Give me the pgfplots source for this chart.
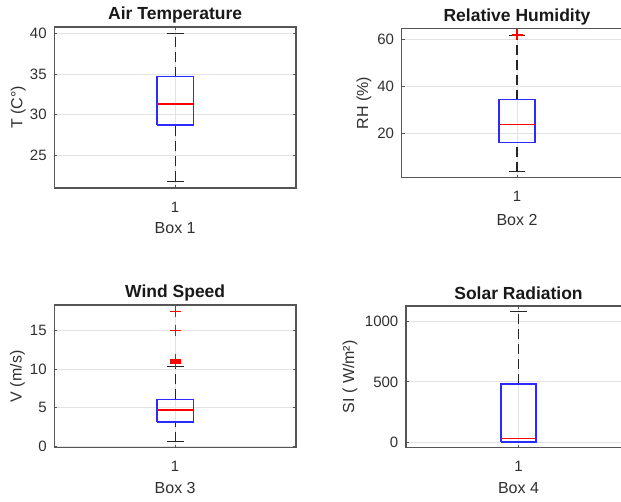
\documentclass[border=0pt]{standalone}
\usepackage{pgfplots}
\pgfplotsset{compat=1.18}
\usepackage{fontspec}
\setmainfont{Liberation Sans}
\definecolor{axgray}{HTML}{555555}
\definecolor{txtgray}{HTML}{303030}
\definecolor{gridgray}{HTML}{E3E3E3}
\definecolor{mlblue}{HTML}{2B2BFF}
\definecolor{mlred}{HTML}{FF0000}
\pgfplotsset{
  every axis title shift=0pt,
  mlbox/.style={
    scale only axis, anchor=south west,
    xmin=0.5, xmax=1.5, xtick={1}, xticklabels={1},
    grid=major, major grid style={gridgray, line width=0.8pt},
    axis line style={axgray, line width=1.2pt},
    tick style={axgray, line width=0.8pt}, major tick length=3pt,
    tick align=inside,
    ticklabel style={font=\fontsize{15}{17}\selectfont, text=txtgray},
    yticklabel style={anchor=east, inner sep=0pt, xshift=-7.5pt},
    xticklabel style={anchor=north, inner sep=0pt, yshift=-13.5pt},
    label style={font=\fontsize{16}{18}\selectfont, text=txtgray},
    xlabel style={at={([yshift=-40.5pt]axis description cs:0.5,0)}, anchor=center},
    title style={font=\bfseries\fontsize{17.5}{20}\selectfont, text=black!90,
      at={([yshift=7pt]axis description cs:0.5,1)}, anchor=base},
    /pgf/number format/assume math mode=true,
    /pgf/number format/1000 sep={},
  },
  ylab/.style={ylabel style={at={([xshift=-#1]axis description cs:0,0.5)},
      anchor=center}},
  whisk/.style={black!85, line width=1.2pt, dash pattern=on 10pt off 5pt, no marks},
  cap/.style={black!85, line width=1.2pt, no marks},
  bx/.style={draw=mlblue, line width=1.5pt, no marks},
  med/.style={mlred, line width=1.2pt, no marks},
  outl/.style={only marks, mark=+, mark size=5.5pt, mlred,
    mark options={draw=mlred, line width=1.3pt}},
}
\begin{document}
\begin{tikzpicture}
\useasboundingbox (0,0) rectangle (621pt,501pt);
% Panel 1: whiskers 21.8/40, quartiles 28.72/34.67, median 31.3
\begin{axis}[mlbox, ylab=36pt, at={(54.3pt,313pt)}, width=241.7pt, height=161pt,
  ymin=20.98, ymax=40.77, ytick={25,30,35,40},
  title={Air Temperature}, xlabel={Box 1}, ylabel={T (C°)}]
\addplot[whisk] coordinates {(1,21.8) (1,28.72)};
\addplot[whisk] coordinates {(1,34.67) (1,40)};
\addplot[cap] coordinates {(0.965,21.8) (1.035,21.8)};
\addplot[cap] coordinates {(0.965,40) (1.035,40)};
\addplot[bx] coordinates {(0.925,28.72) (1.075,28.72) (1.075,34.67) (0.925,34.67) (0.925,28.72)};
\addplot[med] coordinates {(0.925,31.3) (1.075,31.3)};
\end{axis}
% Panel 2
\begin{axis}[mlbox, ylab=37.7pt, at={(401.7pt,323.3pt)}, width=230.6pt, height=149.4pt,
  ymin=1.3, ymax=64.7, ytick={20,40,60},
  title={Relative Humidity}, xlabel={Box 2}, ylabel={RH (\%)},
  xlabel style={at={([yshift=-42pt]axis description cs:0.5,0)}}]
\addplot[whisk] coordinates {(1,3.9) (1,16.2)};
\addplot[whisk] coordinates {(1,34.4) (1,61.6)};
\addplot[cap] coordinates {(0.964,3.9) (1.036,3.9)};
\addplot[cap] coordinates {(0.964,61.6) (1.036,61.6)};
\addplot[bx] coordinates {(0.922,16.2) (1.078,16.2) (1.078,34.4) (0.922,34.4) (0.922,16.2)};
\addplot[med] coordinates {(0.922,24.0) (1.078,24.0)};
\addplot[outl] coordinates {(1,61.9)};
\end{axis}
% Panel 3
\begin{axis}[mlbox, ylab=36.8pt, at={(54.3pt,53.3pt)}, width=241.7pt, height=142.7pt,
  ymin=-0.22, ymax=18.34, ytick={0,5,10,15},
  title={Wind Speed}, xlabel={Box 3}, ylabel={V (m/s)}]
\addplot[whisk] coordinates {(1,0.56) (1,3.13)};
\addplot[whisk] coordinates {(1,6.08) (1,10.3)};
\addplot[cap] coordinates {(0.965,0.56) (1.035,0.56)};
\addplot[cap] coordinates {(0.965,10.3) (1.035,10.3)};
\addplot[bx] coordinates {(0.925,3.13) (1.075,3.13) (1.075,6.08) (0.925,6.08) (0.925,3.13)};
\addplot[med] coordinates {(0.925,4.69) (1.075,4.69)};
\addplot[outl] coordinates {(1,17.47) (1,15.0) (1,11.28) (1,11.1) (1,10.95) (1,10.8)};
\end{axis}
% Panel 4
\begin{axis}[mlbox, ylab=56pt, at={(406pt,53.3pt)}, width=225pt, height=141.7pt,
  ymin=-47, ymax=1130, ytick={0,500,1000},
  title={Solar Radiation}, xlabel={Box 4}, ylabel={SI ( W/m²)}]
\addplot[whisk] coordinates {(1,482) (1,1083)};
\addplot[cap] coordinates {(0.963,0) (1.037,0)};
\addplot[cap] coordinates {(0.963,1083) (1.037,1083)};
\addplot[bx] coordinates {(0.923,0) (1.077,0) (1.077,482) (0.923,482) (0.923,0)};
\addplot[med] coordinates {(0.923,31) (1.077,31)};
\end{axis}
\end{tikzpicture}
\end{document}
